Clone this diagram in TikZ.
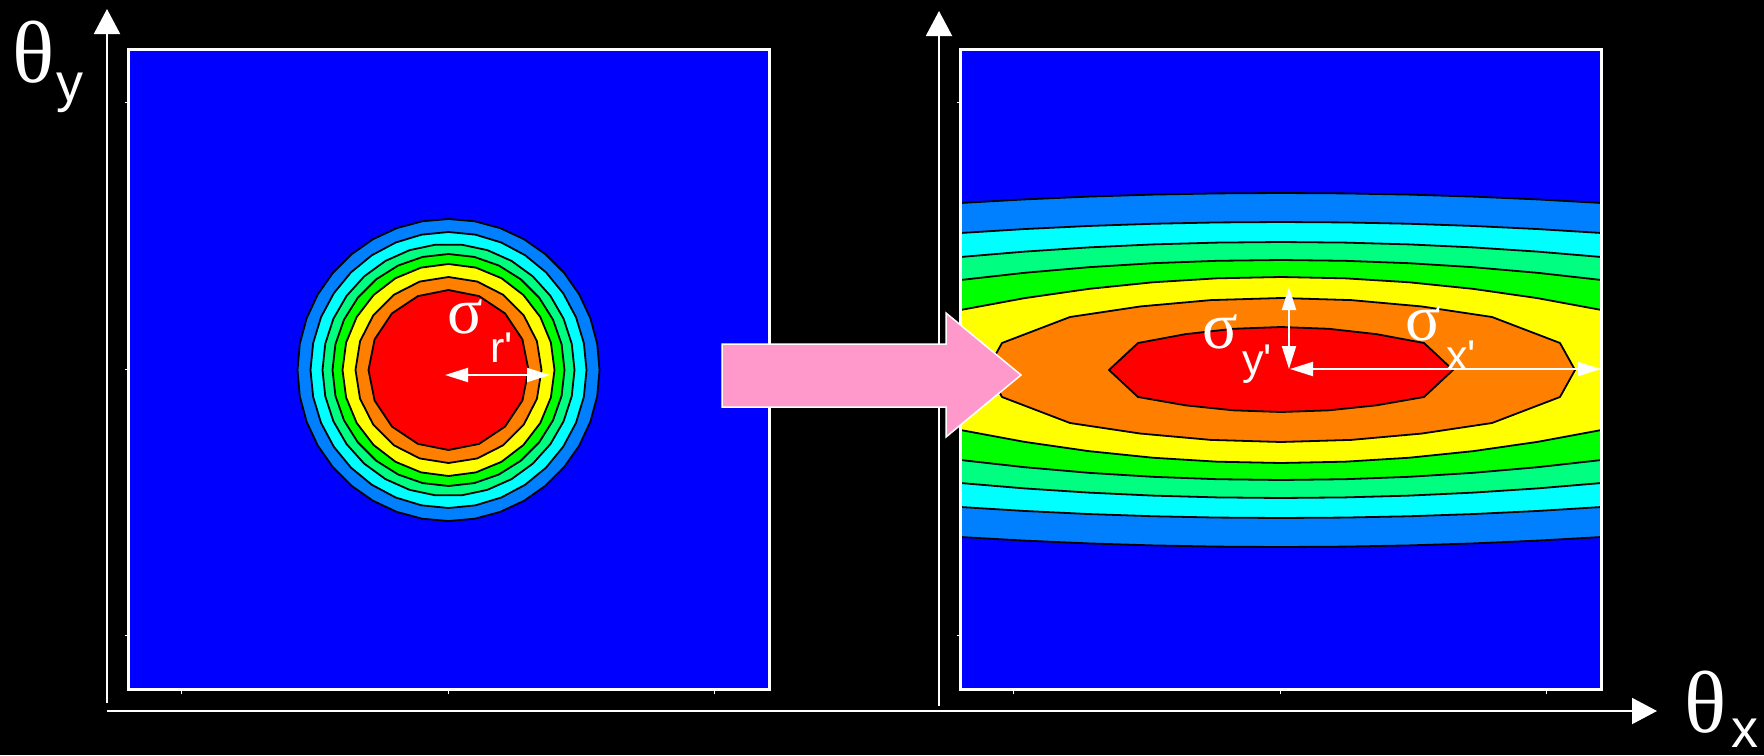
\documentclass[tikz,border=0pt]{standalone}
\usepackage{fontspec}
\setmainfont{Liberation Serif}
\newfontfamily\subsans{Liberation Sans}[Ligatures=TeXOff]
\usetikzlibrary{arrows.meta}
\definecolor{ctblue}{RGB}{0,0,255}
\definecolor{ctlblue}{RGB}{0,128,255}
\definecolor{ctcyan}{RGB}{0,255,255}
\definecolor{ctspring}{RGB}{0,255,128}
\definecolor{ctgreen}{RGB}{0,255,0}
\definecolor{ctyellow}{RGB}{255,255,0}
\definecolor{ctorange}{RGB}{255,128,0}
\definecolor{ctred}{RGB}{255,0,0}
\definecolor{pinkarrow}{RGB}{255,153,204}
\tikzset{
  isoline/.style={draw=black, line width=1.8pt, line join=round},
  panelborder/.style={draw=white, line width=3pt},
  tickmark/.style={white, line width=1.5pt},
  axisline/.style={white, line width=2pt, -{Triangle[length=25pt,width=26pt]}},
  sigarrow/.style={white, line width=2pt, {Triangle[length=23pt,width=14pt]}-{Triangle[length=23pt,width=14pt]}},
  bigtheta/.style={text=white, inner sep=0pt, font=\fontsize{88}{88}\selectfont},
  thetasub/.style={text=white, inner sep=0pt, font=\subsans\fontsize{54}{54}\selectfont},
  sigmatext/.style={text=white, inner sep=0pt, font=\fontsize{66}{66}\selectfont},
  sigmasub/.style={text=white, inner sep=0pt, font=\subsans\fontsize{43}{43}\selectfont}
}
\begin{document}
\begin{tikzpicture}[x=1pt,y=-1pt]
  \fill[black] (0,0) rectangle (1764,755);
  \useasboundingbox (0,0) rectangle (1764,755);
  % round spot (left panel)
  \fill[ctblue] (128.5,49.5) rectangle (768.5,689.5);
  \foreach \r/\c/\n in {151/ctlblue/37, 138/ctcyan/33, 126/ctspring/31, 116/ctgreen/29, 106/ctyellow/25, 93/ctorange/21, 80/ctred/17}
    \filldraw[fill=\c, isoline] plot[domain=0:360, samples=\n] ({448.5+\r*cos(\x)}, {370+\r*sin(\x)}) -- cycle;
  % stretched spot (right panel)
  \fill[ctblue] (960.5,49.5) rectangle (1601.5,689.5);
  \foreach \dc/\de/\c in {177/167/ctlblue, 148/137/ctcyan, 128/113/ctspring, 110/90/ctgreen, 93/60/ctyellow}
    \filldraw[fill=\c, isoline] plot[domain=-320.5:320.5, samples=11] ({1281+\x}, {370-\dc+(\dc-\de)*(\x/320.5)*(\x/320.5)})
      -- plot[domain=320.5:-320.5, samples=11] ({1281+\x}, {370+\dc-(\dc-\de)*(\x/320.5)*(\x/320.5)}) -- cycle;
  \filldraw[fill=ctorange, isoline] (987,370) -- (1002,343)
    -- plot[domain=-211:211, samples=7] ({1281+\x}, {370-72+19*(\x/211)*(\x/211)})
    -- (1560,343) -- (1575,370) -- (1560,397)
    -- plot[domain=211:-211, samples=7] ({1281+\x}, {370+72-19*(\x/211)*(\x/211)})
    -- (1002,397) -- cycle;
  \filldraw[fill=ctred, isoline] (1109,370)
    -- plot[domain=-143:143, samples=7] ({1281+\x}, {370-43+16*(\x/143)*(\x/143)})
    -- (1453,370)
    -- plot[domain=143:-143, samples=7] ({1281+\x}, {370+42-15*(\x/143)*(\x/143)}) -- cycle;
  % frames and ticks
  \foreach \px in {128.5, 960.5} {
    \draw[panelborder] (\px,49.5) rectangle ++(640.5,640);
    \foreach \d in {53,320,586} {
      \draw[tickmark] (\px+\d,689.5) -- ++(0,4);
      \draw[tickmark] (\px,49.5+\d) -- ++(-4,0);
    }
  }
  % axes
  \coordinate (yaxL0) at (107,703);
  \coordinate (yaxL1) at (107,9);
  \coordinate (yaxR0) at (939,706);
  \coordinate (yaxR1) at (939,11);
  \coordinate (xax0) at (107,711);
  \coordinate (xax1) at (1657,711);
  \draw[axisline] (yaxL0) -- (yaxL1);
  \draw[axisline] (yaxR0) -- (yaxR1);
  \draw[axisline] (xax0) -- (xax1);
  \node[bigtheta, anchor=base west] (thy) at (12,82) {θ};
  \node[thetasub, anchor=base west] (thysub) at (56,101) {y};
  \node[bigtheta, anchor=base west] (thx) at (1684,732) {θ};
  \node[thetasub, anchor=base west] (thxsub) at (1731,747) {x};
  % transformation arrow
  \filldraw[fill=pinkarrow, draw=white, line width=1.5pt] (722,344) -- (946,344) -- (946,313) -- (1021,375)
    -- (946,437) -- (946,407) -- (722,407) -- cycle;
  % widths
  \coordinate (sigL0) at (445,375);
  \coordinate (sigL1) at (550,375);
  \coordinate (sigO) at (1289,369);
  \coordinate (sigV) at (1289,287);
  \coordinate (sigH) at (1601,369);
  \draw[sigarrow] (sigL0) -- (sigL1);
  \draw[sigarrow] (sigO) -- (sigV);
  \draw[sigarrow] ([xshift=1pt]sigO) -- (sigH);
  \node[sigmatext, anchor=base west] (sigr) at (447,333) {σ};
  \node[sigmasub, anchor=base west] (sigrsub) at (490,362) {r'};
  \node[sigmatext, anchor=base west] (sigy) at (1202,348) {σ};
  \node[sigmasub, anchor=base west] (sigysub) at (1242,374) {y'};
  \node[sigmatext, anchor=base west] (sigx) at (1405,340) {σ};
  \node[sigmasub, anchor=base west] (sigxsub) at (1446,370) {x'};
\end{tikzpicture}
\end{document}
